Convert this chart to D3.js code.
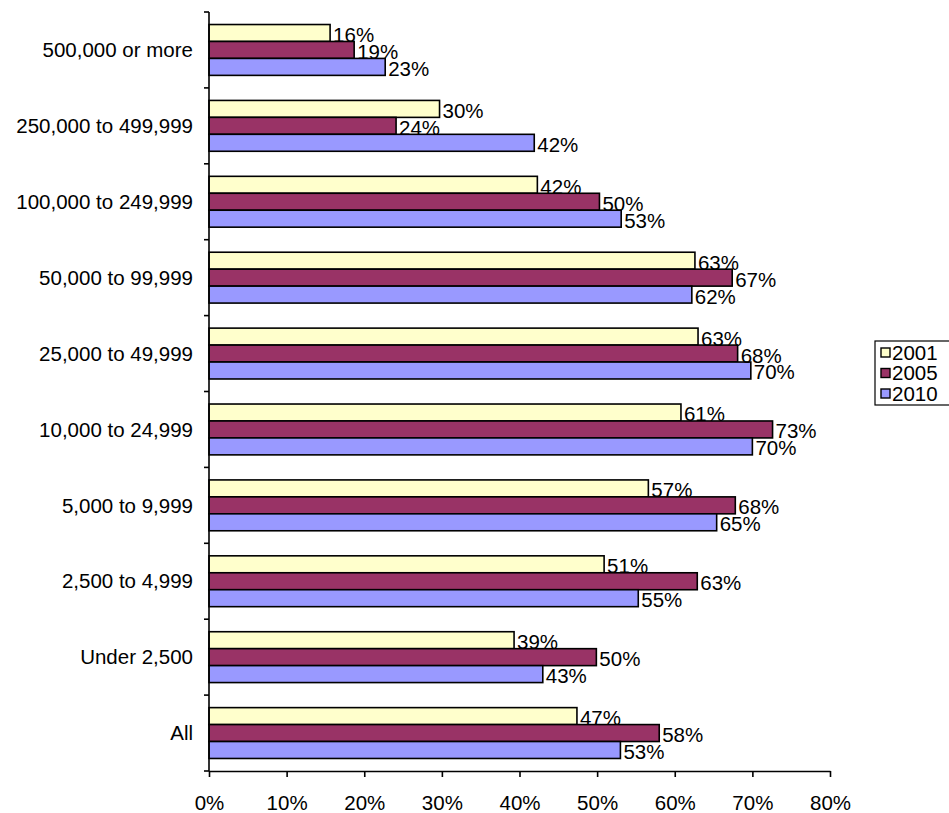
<!DOCTYPE html>
<html><head><meta charset="utf-8">
<script src="https://cdn.jsdelivr.net/npm/d3@7"></script>
<style>body{margin:0;background:#fff}svg{display:block;font-family:"Liberation Sans",Arial,sans-serif}</style>
</head><body><svg id="c" width="949" height="813"></svg>
<script>
const categories = ["500,000 or more","250,000 to 499,999","100,000 to 249,999","50,000 to 99,999","25,000 to 49,999","10,000 to 24,999","5,000 to 9,999","2,500 to 4,999","Under 2,500","All"];
const seriesNames = ["2001","2005","2010"];
const v2001 = [15.6,29.7,42.3,62.6,63.0,60.8,56.6,50.9,39.3,47.4];
const v2005 = [18.7,24.1,50.3,67.4,68.1,72.6,67.8,62.9,49.9,58.0];
const v2010 = [22.7,41.9,53.1,62.2,69.8,70.0,65.4,55.3,43.0,53.0];
const xTicks = [0,10,20,30,40,50,60,70,80];
const colors = ["#FFFFCC","#993366","#9999FF"];
const series = [v2001,v2005,v2010];
const FS = 20.5;

const svg = d3.select("#c");
const L=209, R=830, T=12, B=771;
const x = d3.scaleLinear().domain([0,80]).range([L,R]);
const y = d3.scaleBand().domain(categories).range([T,B]).paddingInner(0.33).paddingOuter(0.165);
const ys = d3.scaleBand().domain(seriesNames).range([0,y.bandwidth()]);

const g = svg.append("g");
const lab = svg.append("g");
categories.forEach((c,i)=>{
  series.forEach((s,j)=>{
    const v=s[i];
    const by=y(c)+ys(seriesNames[j]);
    g.append("rect").attr("x",x(0)).attr("y",by).attr("width",x(v)-x(0)).attr("height",ys.bandwidth())
      .attr("fill",colors[j]).attr("stroke","#000").attr("stroke-width",1.6);
    lab.append("text").attr("x",x(v)+3).attr("y",by+ys.bandwidth()+0.5).attr("font-size",FS).attr("fill","#000")
      .text(Math.round(v)+"%");
  });
});

// x axis
const xa = svg.append("g").attr("transform",`translate(0,${B})`)
  .call(d3.axisBottom(x).tickValues(xTicks).tickFormat(d=>d+"%").tickSizeInner(6).tickSizeOuter(0).tickPadding(18));
xa.select(".domain").attr("stroke","#000").attr("stroke-width",1.6);
xa.selectAll(".tick line").attr("stroke","#000").attr("stroke-width",1.6);
xa.selectAll("text").attr("font-size",FS).attr("fill","#000").attr("font-family","Liberation Sans, Arial, sans-serif");

// y axis line and boundary ticks
const step = (B-T)/categories.length;
svg.append("line").attr("x1",L).attr("x2",L).attr("y1",T).attr("y2",B).attr("stroke","#000").attr("stroke-width",1.6);
d3.range(categories.length+1).forEach(k=>{
  const yy=T+k*step;
  svg.append("line").attr("x1",L-5).attr("x2",L).attr("y1",yy).attr("y2",yy).attr("stroke","#000").attr("stroke-width",1.6);
});
categories.forEach(c=>{
  svg.append("text").attr("x",193).attr("y",y(c)+y.bandwidth()/2).attr("dy","0.35em")
    .attr("text-anchor","end").attr("font-size",FS).attr("fill","#000").text(c);
});

// legend
const lg = svg.append("g").attr("transform","translate(875,341)");
lg.append("rect").attr("x",0).attr("y",0).attr("width",90).attr("height",64).attr("fill","#fff").attr("stroke","#000").attr("stroke-width",1.2);
seriesNames.forEach((n,j)=>{
  const yy=11.5+j*20.5;
  lg.append("rect").attr("x",6).attr("y",yy-4.5).attr("width",9).attr("height",9).attr("fill",colors[j]).attr("stroke","#000").attr("stroke-width",1.4);
  lg.append("text").attr("x",17).attr("y",yy).attr("dy","0.36em").attr("font-size",FS).attr("fill","#000").text(n);
});
</script></body></html>
